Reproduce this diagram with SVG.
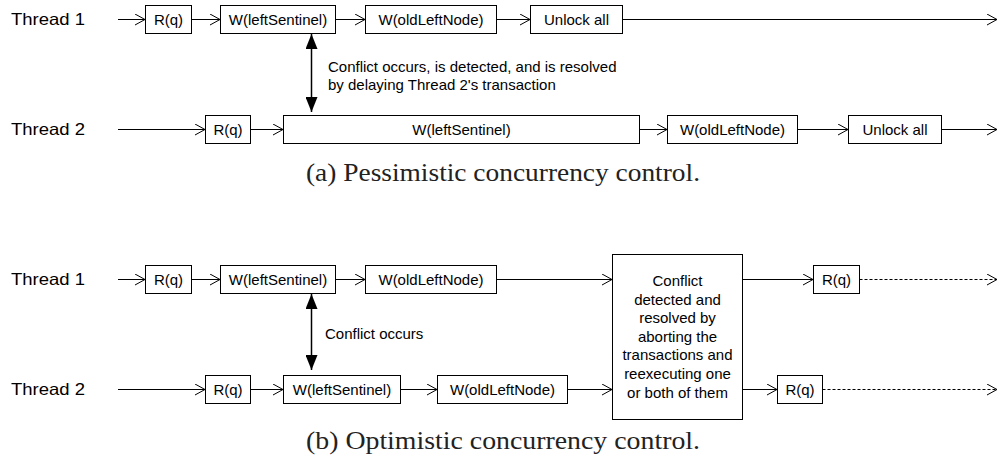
<svg xmlns="http://www.w3.org/2000/svg" width="1002" height="467" viewBox="0 0 1002 467">
<defs>
<marker id="open" viewBox="0 0 10 12" refX="10" refY="6" markerWidth="10" markerHeight="12" markerUnits="userSpaceOnUse" orient="auto">
<path d="M0,0.5 L10,6 L0,11.5" fill="none" stroke="#000" stroke-width="1"/>
</marker>
<marker id="solid" viewBox="0 0 15 12" refX="15" refY="6" markerWidth="15" markerHeight="12" markerUnits="userSpaceOnUse" orient="auto-start-reverse">
<path d="M0,0 L15,6 L0,12 Z" fill="#000"/>
</marker>
</defs>
<style>
.box{fill:#fff;stroke:#000;stroke-width:1}
.t{font-family:"Liberation Sans",Arial,sans-serif;font-size:15px;fill:#000}
.c{text-anchor:middle}
.lbl{font-family:"Liberation Sans",Arial,sans-serif;font-size:16.5px;fill:#000}
.cap{font-family:"Liberation Serif","Times New Roman",serif;font-size:25px;fill:#222}
.ln{fill:none;stroke:#000;stroke-width:1;marker-end:url(#open)}
.dash{stroke-dasharray:3,2}
.dbl{fill:none;stroke:#000;stroke-width:1.5;marker-start:url(#solid);marker-end:url(#solid)}
</style>
<rect width="1002" height="467" fill="#fff"/>

<g id="connectors">
<!-- (a) thread 1 -->
<line class="ln" x1="118" y1="19.5" x2="145" y2="19.5"/>
<line class="ln" x1="191.5" y1="19.5" x2="220" y2="19.5"/>
<line class="ln" x1="335.5" y1="19.5" x2="365" y2="19.5"/>
<line class="ln" x1="496.5" y1="19.5" x2="530" y2="19.5"/>
<line class="ln" x1="622.5" y1="19.5" x2="997" y2="19.5"/>
<!-- (a) thread 2 -->
<line class="ln" x1="118" y1="129.5" x2="205" y2="129.5"/>
<line class="ln" x1="250.5" y1="129.5" x2="283" y2="129.5"/>
<line class="ln" x1="639.5" y1="129.5" x2="667" y2="129.5"/>
<line class="ln" x1="797.5" y1="129.5" x2="848" y2="129.5"/>
<line class="ln" x1="941.5" y1="129.5" x2="997" y2="129.5"/>
<line class="dbl" x1="311.5" y1="34" x2="311.5" y2="112"/>
<!-- (b) thread 1 -->
<line class="ln" x1="118" y1="279.5" x2="145" y2="279.5"/>
<line class="ln" x1="191.5" y1="279.5" x2="220" y2="279.5"/>
<line class="ln" x1="335.5" y1="279.5" x2="365" y2="279.5"/>
<line class="ln" x1="496.5" y1="279.5" x2="612" y2="279.5"/>
<line class="ln" x1="742.5" y1="279.5" x2="813" y2="279.5"/>
<line class="ln dash" x1="859.5" y1="279.5" x2="997" y2="279.5"/>
<!-- (b) thread 2 -->
<line class="ln" x1="118" y1="389.5" x2="205" y2="389.5"/>
<line class="ln" x1="250.5" y1="389.5" x2="283" y2="389.5"/>
<line class="ln" x1="400.5" y1="389.5" x2="437" y2="389.5"/>
<line class="ln" x1="567.5" y1="389.5" x2="612" y2="389.5"/>
<line class="ln" x1="742.5" y1="389.5" x2="777" y2="389.5"/>
<line class="ln dash" x1="822.5" y1="389.5" x2="997" y2="389.5"/>
<line class="dbl" x1="311.5" y1="294" x2="311.5" y2="370"/>
</g>

<!-- (a) -->
<g id="a-t1-label"><text class="lbl" x="11" y="25" textLength="74" lengthAdjust="spacingAndGlyphs">Thread 1</text></g>
<g id="a-t2-label"><text class="lbl" x="11" y="135" textLength="74" lengthAdjust="spacingAndGlyphs">Thread 2</text></g>

<g id="a1-rq"><rect class="box" x="145.5" y="5.5" width="46" height="28"/><text class="t c" x="168.5" y="25">R(q)</text></g>
<g id="a1-wls"><rect class="box" x="220.5" y="5.5" width="115" height="28"/><text class="t c" x="278" y="25">W(leftSentinel)</text></g>
<g id="a1-woln"><rect class="box" x="365.5" y="5.5" width="131" height="28"/><text class="t c" x="431" y="25">W(oldLeftNode)</text></g>
<g id="a1-unlock"><rect class="box" x="530.5" y="5.5" width="92" height="28"/><text class="t c" x="576.5" y="25">Unlock all</text></g>

<g id="a2-rq"><rect class="box" x="205.5" y="115.5" width="45" height="28"/><text class="t c" x="228" y="135">R(q)</text></g>
<g id="a2-wls"><rect class="box" x="283.5" y="115.5" width="356" height="28"/><text class="t c" x="461.5" y="135">W(leftSentinel)</text></g>
<g id="a2-woln"><rect class="box" x="667.5" y="115.5" width="130" height="28"/><text class="t c" x="732.5" y="135">W(oldLeftNode)</text></g>
<g id="a2-unlock"><rect class="box" x="848.5" y="115.5" width="93" height="28"/><text class="t c" x="895" y="135">Unlock all</text></g>

<g id="a-conflict-label"><text class="t" x="328" y="72">Conflict occurs, is detected, and is resolved</text><text class="t" x="328" y="90">by delaying Thread 2's transaction</text></g>

<g id="a-caption"><text class="cap" x="306" y="181" textLength="394" lengthAdjust="spacingAndGlyphs">(a) Pessimistic concurrency control.</text></g>

<!-- (b) -->
<g id="b-t1-label"><text class="lbl" x="11" y="285" textLength="74" lengthAdjust="spacingAndGlyphs">Thread 1</text></g>
<g id="b-t2-label"><text class="lbl" x="11" y="395" textLength="74" lengthAdjust="spacingAndGlyphs">Thread 2</text></g>

<g id="b1-rq"><rect class="box" x="145.5" y="265.5" width="46" height="28"/><text class="t c" x="168.5" y="285">R(q)</text></g>
<g id="b1-wls"><rect class="box" x="220.5" y="265.5" width="115" height="28"/><text class="t c" x="278" y="285">W(leftSentinel)</text></g>
<g id="b1-woln"><rect class="box" x="365.5" y="265.5" width="131" height="28"/><text class="t c" x="431" y="285">W(oldLeftNode)</text></g>
<g id="b-resolve"><rect class="box" x="612.5" y="254.5" width="130" height="165"/>
<text class="t c" x="677.5" y="286">Conflict</text>
<text class="t c" x="677.5" y="304.6">detected and</text>
<text class="t c" x="677.5" y="323.2">resolved by</text>
<text class="t c" x="677.5" y="341.8">aborting the</text>
<text class="t c" x="677.5" y="360.4">transactions and</text>
<text class="t c" x="677.5" y="379">reexecuting one</text>
<text class="t c" x="677.5" y="397.6">or both of them</text>
</g>
<g id="b1-rq2"><rect class="box" x="813.5" y="265.5" width="46" height="28"/><text class="t c" x="836.5" y="285">R(q)</text></g>

<g id="b2-rq"><rect class="box" x="205.5" y="375.5" width="45" height="28"/><text class="t c" x="228" y="395">R(q)</text></g>
<g id="b2-wls"><rect class="box" x="283.5" y="375.5" width="117" height="28"/><text class="t c" x="342" y="395">W(leftSentinel)</text></g>
<g id="b2-woln"><rect class="box" x="437.5" y="375.5" width="130" height="28"/><text class="t c" x="502.5" y="395">W(oldLeftNode)</text></g>
<g id="b2-rq2"><rect class="box" x="777.5" y="375.5" width="45" height="28"/><text class="t c" x="800" y="395">R(q)</text></g>

<g id="b-conflict-label"><text class="t" x="325" y="339">Conflict occurs</text></g>

<g id="b-caption"><text class="cap" x="306" y="449" textLength="394" lengthAdjust="spacingAndGlyphs">(b) Optimistic concurrency control.</text></g>
</svg>
